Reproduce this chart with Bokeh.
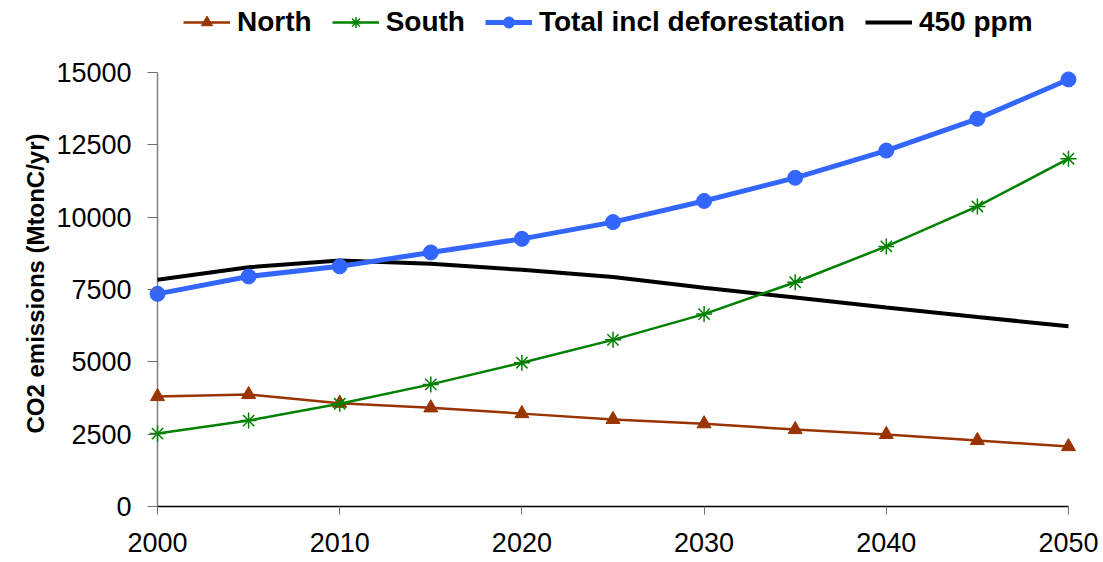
from bokeh.plotting import figure
from bokeh.models import Range1d, FixedTicker, Legend, LegendItem, Title
from bokeh.embed import file_html
from bokeh.resources import INLINE

years = [2000, 2005, 2010, 2015, 2020, 2025, 2030, 2035, 2040, 2045, 2050]
north = [3800, 3870, 3570, 3410, 3210, 3010, 2860, 2660, 2490, 2280, 2070]
south = [2520, 2970, 3550, 4220, 4970, 5760, 6650, 7750, 8990, 10370, 12020]
total = [7350, 7950, 8300, 8780, 9250, 9830, 10560, 11360, 12300, 13400, 14760]
ppm450 = [7840, 8270, 8500, 8390, 8180, 7930, 7560, 7220, 6880, 6550, 6230]

y_ticks = [0, 2500, 5000, 7500, 10000, 12500, 15000]
x_ticks = [2000, 2010, 2020, 2030, 2040, 2050]

FONT = "Liberation Sans"

x_pad = 0.55
# frame spans from y=0 (pixel 506) to canvas top (pixel 0); 15000 sits at pixel 72
y_end = y_ticks[-1] * 506 / 434

p = figure(width=1103, height=562, output_backend="svg", toolbar_location=None,
           x_range=Range1d(x_ticks[0] - x_pad, x_ticks[-1] + x_pad),
           y_range=Range1d(y_ticks[0], y_end),
           min_border_left=147, min_border_right=25, min_border_top=0,
           min_border_bottom=56)
p.outline_line_color = None
p.xgrid.visible = False
p.ygrid.visible = False
p.background_fill_color = "white"
p.border_fill_color = "white"

# x axis
xa = p.xaxis[0]
xa.ticker = FixedTicker(ticks=x_ticks)
xa.bounds = (x_ticks[0], x_ticks[-1])
xa.axis_line_color = "black"
xa.axis_line_width = 1.5
xa.major_tick_line_color = "#707070"
xa.major_tick_out = 8
xa.major_tick_in = 0
xa.minor_tick_line_color = None
xa.major_label_text_font = FONT
xa.major_label_text_font_size = "27px"
xa.major_label_text_color = "black"
xa.major_label_standoff = 18

# y axis
ya = p.yaxis[0]
ya.ticker = FixedTicker(ticks=y_ticks)
ya.axis_line_color = None
ya.major_tick_line_color = "#707070"
ya.major_tick_out = 0
ya.major_tick_in = 10
ya.minor_tick_line_color = None
ya.major_label_text_font = FONT
ya.major_label_text_font_size = "27px"
ya.major_label_text_color = "black"
ya.major_label_standoff = 16

ytitle = Title(text="CO2 emissions (MtonC/yr)", align="left", offset=73,
               text_font=FONT, text_font_style="bold", text_font_size="24px",
               text_color="black", standoff=9)
p.add_layout(ytitle, "left")

# y axis line drawn at x = first year
p.segment(x0=[years[0]], y0=[y_ticks[0]], x1=[years[0]], y1=[y_ticks[-1]],
          line_color="#808080", line_width=1.5)

brown = "#993300"
green = "#008000"
blue = "#3366FF"

l_ppm = p.line(years, ppm450, line_color="black", line_width=4)
l_n = p.line(years, north, line_color=brown, line_width=2.5)
m_n = p.scatter(years, north, marker="triangle", size=14, fill_color=brown, line_color=brown)
l_s = p.line(years, south, line_color=green, line_width=2.5)
m_s = p.scatter(years, south, marker="asterisk", size=16, line_color=green, line_width=1.5)
l_t = p.line(years, total, line_color=blue, line_width=5)
m_t = p.scatter(years, total, marker="circle", size=15, fill_color=blue, line_color=blue)

legend = Legend(items=[
    LegendItem(label="North", renderers=[l_n, m_n]),
    LegendItem(label="South", renderers=[l_s, m_s]),
    LegendItem(label="Total incl deforestation", renderers=[l_t, m_t]),
    LegendItem(label="450 ppm", renderers=[l_ppm]),
], orientation="horizontal", location=(36, 468))
legend.label_text_font = FONT
legend.label_text_font_style = "bold"
legend.label_text_font_size = "28px"
legend.label_text_color = "black"
legend.glyph_width = 47
legend.glyph_height = 28
legend.label_height = 28
legend.label_standoff = 7
legend.spacing = 20
legend.padding = 0
legend.margin = 0
legend.border_line_color = None
legend.background_fill_alpha = 0
p.add_layout(legend, "center")

open("out.html", "w").write(file_html(p, INLINE))
